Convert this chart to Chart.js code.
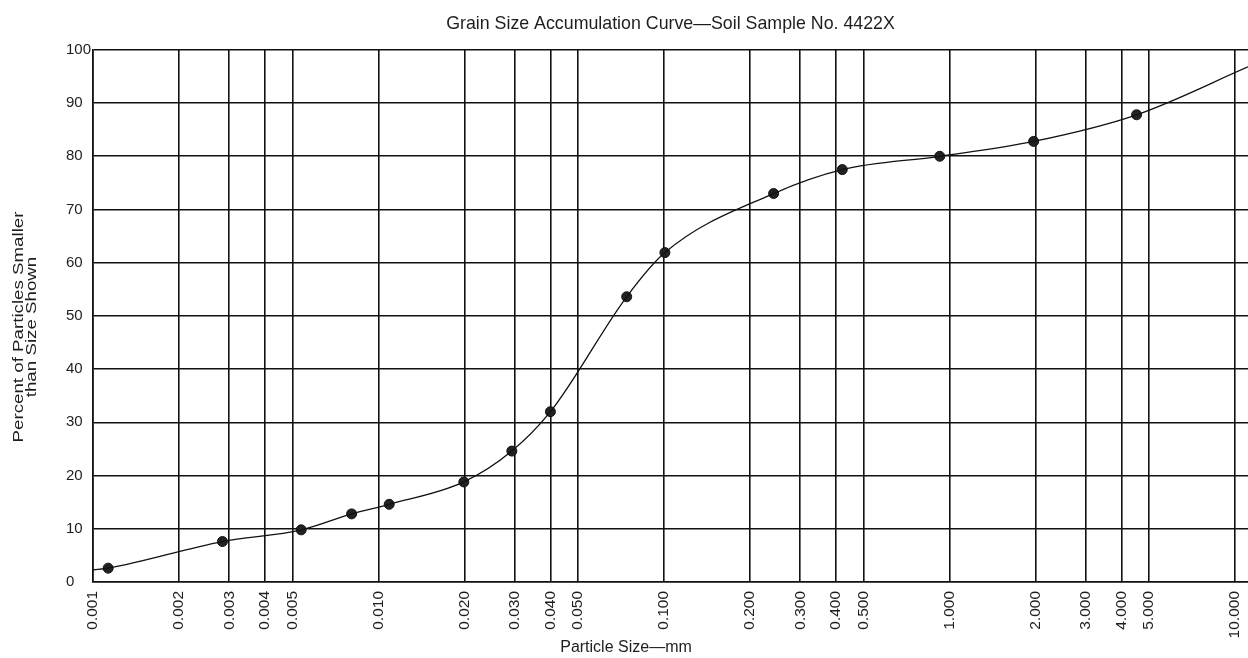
<!DOCTYPE html>
<html>
<head>
<meta charset="utf-8">
<title>Grain Size Accumulation Curve</title>
<script src="https://cdn.jsdelivr.net/npm/chart.js@4.4.0/dist/chart.umd.min.js"></script>
<style>
  html, body { margin: 0; padding: 0; background: #fff; }
  canvas { display: block; }
</style>
</head>
<body>
<canvas id="grainChart" width="1248" height="658"></canvas>
<script>
// sieve sizes drawn as vertical grid lines (mm)
const sizeTicks = [0.001, 0.002, 0.003, 0.004, 0.005, 0.010, 0.020, 0.030, 0.040, 0.050,
    0.100, 0.200, 0.300, 0.400, 0.500, 1.000, 2.000, 3.000, 4.000, 5.000, 10.000];

// measured samples: particle size (mm) and percent finer
const sampleSizes = [0.00113, 0.00284, 0.00536, 0.00805, 0.0109, 0.0199, 0.0293, 0.040,
    0.074, 0.1007, 0.242, 0.421, 0.924, 1.97, 4.52];
const samplePercents = [2.6, 7.6, 9.8, 12.8, 14.6, 18.8, 24.6, 32.0,
    53.6, 61.9, 73.0, 77.5, 80.0, 82.8, 87.8];

// the drawn curve runs from the left edge of the plot to the right edge
const curveSizes = [0.001].concat(sampleSizes, [11.1]);
const curvePercents = [2.25].concat(samplePercents, [96.8]);

const FONT = 'Arial, "Liberation Sans", sans-serif';
const INK = '#1e1e1e';

// axis titles sit a bit off centre in the original, so draw them by hand
const axisTitles = {
    id: 'axisTitles',
    afterDraw(chart) {
        const ctx = chart.ctx;
        ctx.save();
        ctx.fillStyle = INK;
        ctx.font = '16px ' + FONT;
        ctx.textAlign = 'center';
        ctx.textBaseline = 'middle';
        ctx.fillText('Particle Size\u2014mm', 626, 648);
        ctx.translate(25, 327);
        ctx.rotate(-Math.PI / 2);
        ctx.scale(1.17, 0.95); // the scanned label is drawn long and narrow
        ctx.fillText('Percent of Particles Smaller', 0, -7);
        ctx.fillText('than Size Shown', 0, 7);
        ctx.restore();
    }
};

const config = {
    type: 'line',
    data: {
        datasets: [{
            label: 'Curve',
            data: curveSizes.map((s, i) => ({ x: s, y: curvePercents[i] })),
            borderColor: '#111',
            borderWidth: 1.3,
            pointRadius: 0,
            fill: false,
            cubicInterpolationMode: 'monotone'
        }, {
            label: 'Samples',
            data: sampleSizes.map((s, i) => ({ x: s, y: samplePercents[i] })),
            showLine: false,
            pointRadius: 5,
            pointBackgroundColor: '#222',
            pointBorderColor: '#111',
            pointBorderWidth: 1
        }]
    },
    options: {
        responsive: false,
        animation: false,
        layout: {
            autoPadding: false,
            padding: { left: 66, right: 0, top: 0, bottom: 0 }
        },
        plugins: {
            legend: { display: false },
            tooltip: { enabled: false },
            title: {
                display: true,
                fullSize: false,
                text: 'Grain Size Accumulation Curve\u2014Soil Sample No. 4422X',
                color: INK,
                font: { family: FONT, size: 17.8, weight: 'normal' },
                padding: { top: 13, bottom: 15.5 }
            }
        },
        scales: {
            x: {
                type: 'logarithmic',
                min: 0.001,
                max: 11.1,
                afterBuildTicks: function(scale) {
                    scale.ticks = sizeTicks.map(v => ({ value: v }));
                },
                afterFit: function(scale) {
                    scale.height = 76;
                    // let the plot run right up to the canvas edge
                    scale.paddingRight = 0;
                    scale.paddingLeft = 0;
                },
                ticks: {
                    autoSkip: false,
                    maxRotation: 90,
                    minRotation: 90,
                    padding: 9,
                    color: INK,
                    font: { family: FONT, size: 15.5 },
                    callback: function(value) { return Number(value).toFixed(3); }
                },
                grid: { color: '#111', lineWidth: 1.6, drawTicks: false },
                border: { color: '#111', width: 1.6 }
            },
            y: {
                min: 0,
                max: 100,
                afterFit: function(scale) { scale.width = 27; },
                ticks: {
                    stepSize: 10,
                    crossAlign: 'far',
                    color: INK,
                    font: { family: FONT, size: 15 }
                },
                grid: { color: '#111', lineWidth: 1.6, drawTicks: false },
                border: { color: '#111', width: 1.6 }
            }
        }
    },
    plugins: [axisTitles]
};

new Chart(document.getElementById('grainChart'), config);
</script>
</body>
</html>
